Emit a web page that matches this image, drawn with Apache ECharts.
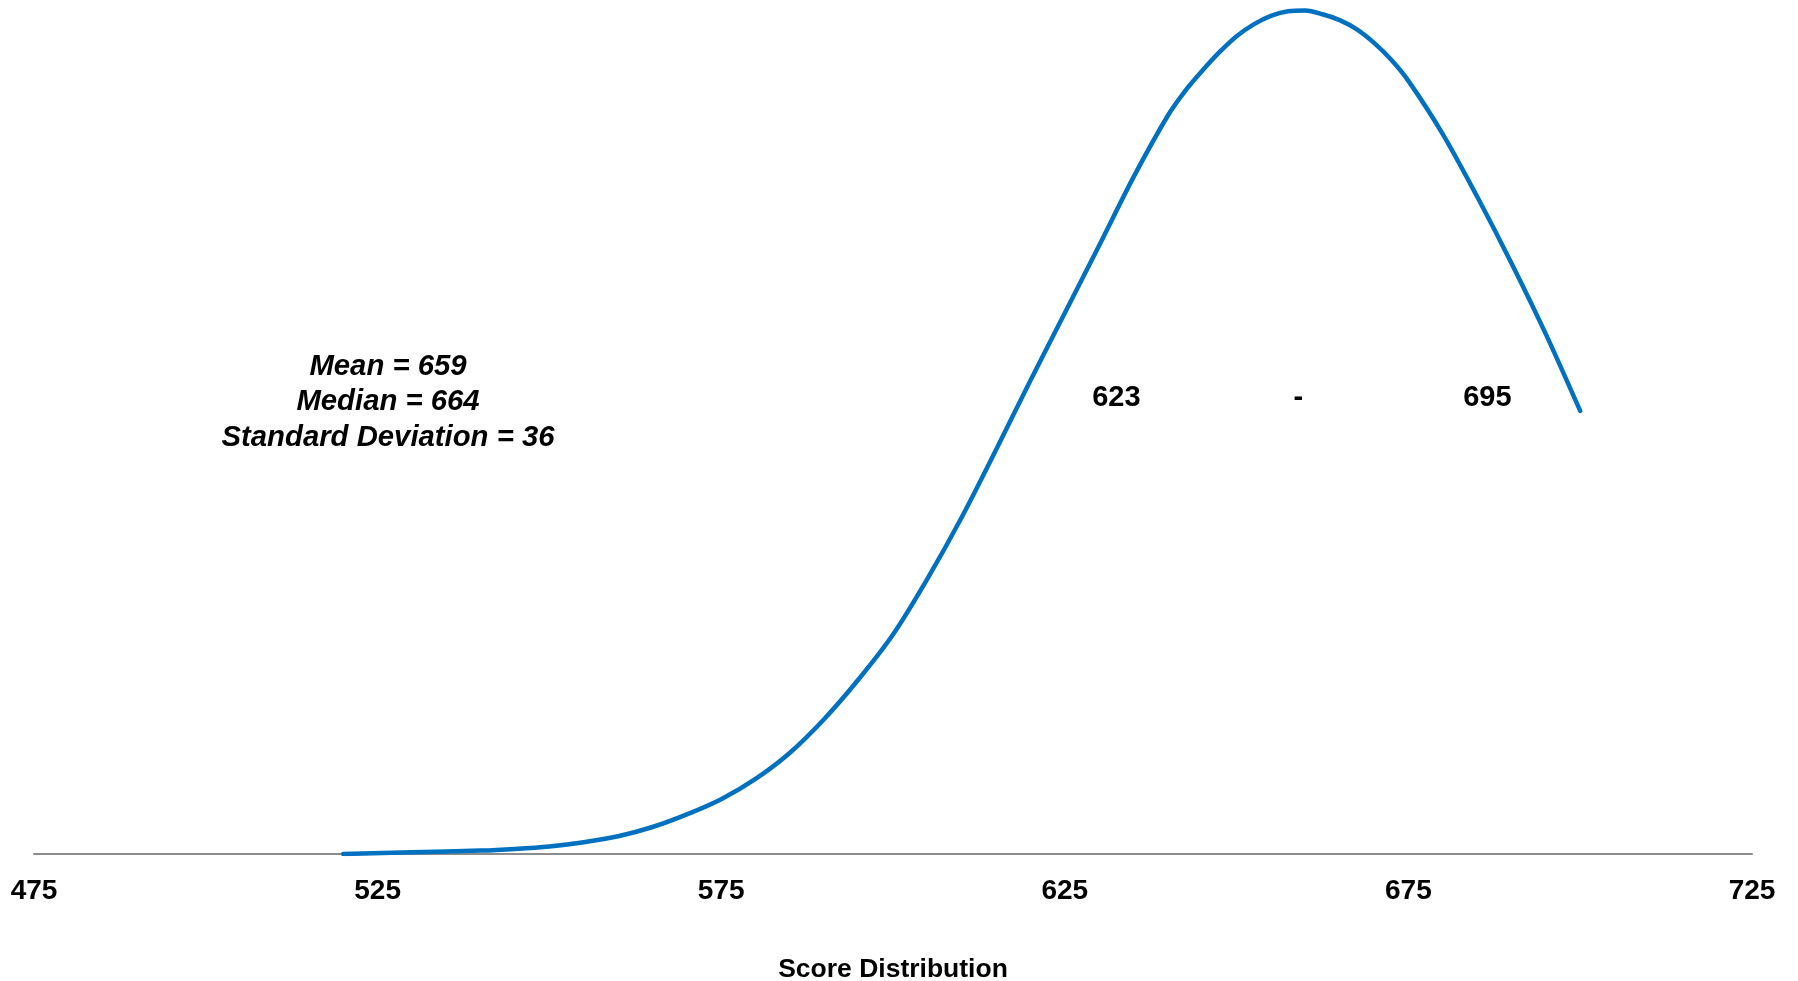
<!DOCTYPE html>
<html>
<head>
<meta charset="utf-8">
<script src="https://cdn.jsdelivr.net/npm/echarts@6/dist/echarts.min.js"></script>
<style>
html,body{margin:0;padding:0;background:#fff;}
#chart{width:1798px;height:981px;}
</style>
</head>
<body>
<div id="chart"></div>
<script>
// Score values (x) and relative density (y, fraction of peak)
var scores = [520, 530, 540, 545, 550, 555, 560, 565, 570, 575, 580, 585, 590, 595, 600, 605, 610, 615, 620, 625, 630, 635, 640, 642.5, 645, 647.5, 650, 652.5, 655, 657.5, 660, 662.5, 665, 667.5, 670, 672.5, 675, 680, 685, 690, 695, 700];
var density = [0, 0.002, 0.004, 0.006, 0.009, 0.014, 0.021, 0.032, 0.047, 0.065, 0.089, 0.120, 0.160, 0.207, 0.260, 0.326, 0.399, 0.479, 0.561, 0.641, 0.721, 0.802, 0.875, 0.904, 0.928, 0.950, 0.969, 0.983, 0.993, 0.9985, 0.9993, 0.995, 0.988, 0.977, 0.961, 0.941, 0.916, 0.853, 0.779, 0.700, 0.616, 0.525];

var xTicks = [475, 525, 575, 625, 675, 725];
var axisTitle = 'Score Distribution';

var statLines = ['Mean = 659', 'Median = 664', 'Standard Deviation = 36'];
var rangeLabels = ['623', '-', '695'];
var rangeLabelX = [632.5, 659, 686.5];
var rangeLabelY = 0.540;

var curveData = scores.map(function (s, i) { return [s, density[i]]; });
var labelData = rangeLabels.map(function (t, i) { return { value: [rangeLabelX[i], rangeLabelY], name: t }; });

var chart = echarts.init(document.getElementById('chart'));
chart.setOption({
  animation: false,
  backgroundColor: '#ffffff',
  grid: { left: 34, right: 46, top: 10, bottom: 127, containLabel: false, outerBoundsMode: 'none' },
  xAxis: {
    type: 'value',
    min: xTicks[0],
    max: xTicks[xTicks.length - 1],
    interval: 50,
    axisLine: { show: true, lineStyle: { color: '#8c8c8c', width: 2 } },
    axisTick: { show: false },
    splitLine: { show: false },
    axisLabel: {
      color: '#000',
      fontFamily: 'Liberation Sans, Arial, sans-serif',
      fontWeight: 'bold',
      fontSize: 28,
      margin: 23.5
    },
    name: axisTitle,
    nameLocation: 'middle',
    nameGap: 102,
    nameTextStyle: {
      color: '#000',
      fontFamily: 'Liberation Sans, Arial, sans-serif',
      fontWeight: 'bold',
      fontSize: 26.5
    }
  },
  yAxis: {
    type: 'value',
    min: 0,
    max: 1,
    show: false
  },
  series: [
    {
      type: 'line',
      data: curveData,
      smooth: 0.3,
      showSymbol: false,
      symbol: 'none',
      lineStyle: { color: '#0070C0', width: 4.5, cap: 'round', join: 'round' },
      z: 3
    },
    {
      type: 'scatter',
      data: labelData,
      symbolSize: 0,
      itemStyle: { opacity: 1, color: '#000' },
      label: {
        show: true,
        position: 'inside',
        formatter: function (p) { return p.name; },
        color: '#000',
        opacity: 1,
        textBorderWidth: 0,
        fontFamily: 'Liberation Sans, Arial, sans-serif',
        fontWeight: 'bold',
        fontSize: 29
      },
      emphasis: { disabled: true },
      z: 4
    }
  ],
  graphic: [
    {
      type: 'text',
      left: 388 - 200,
      top: 349,
      style: {
        text: statLines.join('\n'),
        width: 400,
        x: 200,
        textAlign: 'center',
        fill: '#000',
        font: 'italic bold 29.3px "Liberation Sans", Arial, sans-serif',
        lineHeight: 35.5
      }
    }
  ]
});
</script>
</body>
</html>
